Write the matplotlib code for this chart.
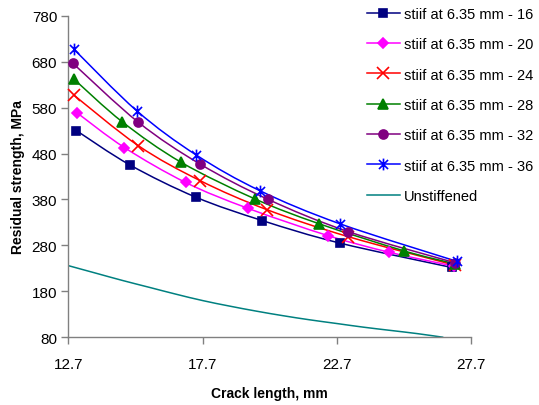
import matplotlib
matplotlib.use("Agg")
import matplotlib.pyplot as plt
import numpy as np
from matplotlib.path import Path
from matplotlib.patches import PathPatch
from matplotlib.lines import Line2D

plt.rcParams['font.family'] = ['Liberation Sans', 'DejaVu Sans']

# ---- data ----
x16 = [13.00, 15.00, 17.45, 19.93, 22.82, 26.98]
y16 = [530, 455, 385, 334, 285, 232]
x20 = [13.04, 14.79, 17.07, 19.38, 22.39, 24.66, 27.05]
y20 = [568, 493, 417, 361, 301, 265, 235]
x24 = [12.91, 15.31, 17.61, 20.09, 23.13, 27.10]
y24 = [607, 497, 421, 358, 299, 237]
x28 = [12.91, 14.71, 16.90, 19.66, 22.05, 25.21, 27.10]
y28 = [642, 549, 461, 381, 327, 268, 240]
x32 = [12.86, 15.31, 17.61, 20.15, 23.13, 27.12]
y32 = [677, 548, 457, 380, 310, 242]
x36 = [12.91, 15.25, 17.46, 19.84, 22.82, 27.19]
y36 = [707, 573, 477, 399, 327, 245]
x_un = [12.70, 13.70, 14.70, 15.70, 16.70, 17.70, 18.70, 19.70, 20.70, 21.70, 22.70, 23.70, 24.70, 25.70, 26.67]
y_un = [236, 220, 204, 189, 174, 160, 148, 137, 127, 118, 110, 102, 95, 88, 80]

labels = ["stiif at 6.35 mm - 16", "stiif at 6.35 mm - 20", "stiif at 6.35 mm - 24",
          "stiif at 6.35 mm - 28", "stiif at 6.35 mm - 32", "stiif at 6.35 mm - 36",
          "Unstiffened"]
xticks = [12.7, 17.7, 22.7, 27.7]
yticks = [80, 180, 280, 380, 480, 580, 680, 780]

# Excel-like star marker (X plus vertical bar)
star = Path([(-1, -1), (1, 1), (-1, 1), (1, -1), (0, -1.3), (0, 1.3)],
            [Path.MOVETO, Path.LINETO, Path.MOVETO, Path.LINETO, Path.MOVETO, Path.LINETO])

series = [
    (x16, y16, '#000080', 's', 6.0, '#000080'),
    (x20, y20, '#FF00FF', 'D', 5.2, '#FF00FF'),
    (x24, y24, '#FF0000', 'x', 8.0, '#FF0000'),
    (x28, y28, '#008000', '^', 7.0, '#008000'),
    (x32, y32, '#800080', 'o', 6.5, '#800080'),
    (x36, y36, '#0000FF', star, 8.5, '#0000FF'),
    (x_un, y_un, '#008080', None, 0, '#008080'),
]


def smooth_path(xs, ys, t=1.0):
    p = np.column_stack([xs, ys]).astype(float)
    n = len(p)
    verts = [p[0]]
    codes = [Path.MOVETO]
    for i in range(n - 1):
        p0 = p[i - 1] if i > 0 else p[i]
        p1 = p[i]
        p2 = p[i + 1]
        p3 = p[i + 2] if i + 2 < n else p[i + 1]
        c1 = p1 + (p2 - p0) / 6.0 * t
        c2 = p2 - (p3 - p1) / 6.0 * t
        verts += [c1, c2, p2]
        codes += [Path.CURVE4] * 3
    return Path(verts, codes)


fig = plt.figure(figsize=(5.39, 4.06), dpi=100)
ax = fig.add_axes([68.3 / 539, 1 - 338.3 / 406, (471 - 68.3) / 539, (338.3 - 16.7) / 406])

handles = []
for (xs, ys, col, mk, ms, mc), lab in zip(series, labels):
    ax.add_patch(PathPatch(smooth_path(xs, ys), fill=False, edgecolor=col, lw=1.1,
                           transform=ax.transData, clip_on=True, zorder=2))
    if mk is not None:
        ax.plot(xs, ys, linestyle='none', marker=mk, markersize=ms, color=mc,
                markeredgecolor=mc, markeredgewidth=1.2, zorder=3, clip_on=False)
    handles.append(Line2D([], [], color=col, lw=1.1, marker=mk if mk is not None else None,
                          markersize=ms, markerfacecolor=mc, markeredgecolor=mc,
                          markeredgewidth=1.2))

ax.set_xlim(12.7, 27.7)
ax.set_ylim(80, 780)
ax.set_xticks(xticks)
ax.set_xticklabels([f"{v:.1f}" for v in xticks])
ax.set_yticks(yticks)
for s in ['top', 'right']:
    ax.spines[s].set_visible(False)
for s in ['left', 'bottom']:
    ax.spines[s].set_color('#808080')
    ax.spines[s].set_linewidth(1.0)
ax.tick_params(axis='both', direction='out', length=5, width=1.0, color='#808080',
               labelsize=11, labelcolor='black')
ax.tick_params(axis='x', pad=9)
ax.tick_params(axis='y', pad=3)
ax.set_xlabel("Crack length, mm", fontsize=10, fontweight='bold', labelpad=11)
ax.set_ylabel("Residual strength, MPa", fontsize=10, fontweight='bold', labelpad=5)

fig.legend(handles, labels, loc='upper left', bbox_to_anchor=(364 / 539, 1.0 - 5 / 406),
           frameon=False, fontsize=10.5, handlelength=2.25, handletextpad=0.28,
           labelspacing=1.12, borderaxespad=0.0, borderpad=0.2)

fig.savefig("out.png", dpi=100)
